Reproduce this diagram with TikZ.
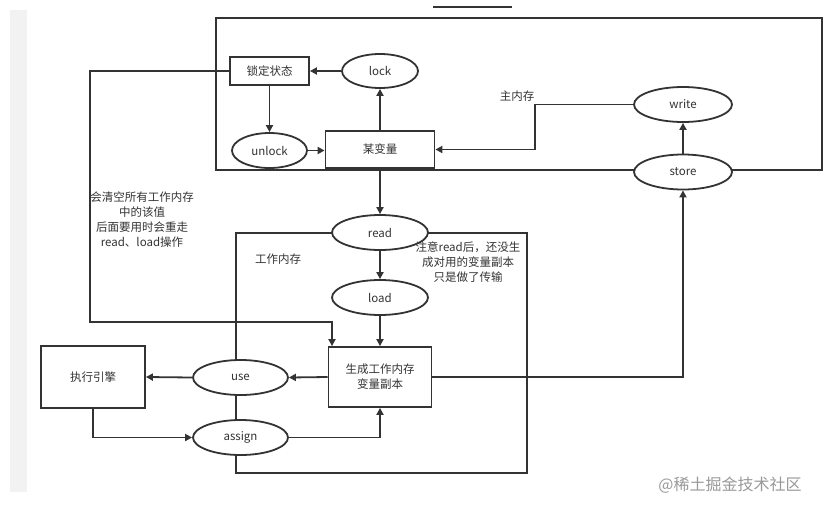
\documentclass[tikz,border=0pt]{standalone}
\usepackage{fontspec}
\setmainfont{Noto Sans CJK SC}
\usetikzlibrary{arrows.meta,shapes.geometric}
\definecolor{ln}{HTML}{333333}
\definecolor{strip}{HTML}{F2F2F2}
\begin{document}
\begin{tikzpicture}[x=1pt,y=-1pt,
  line/.style={draw=ln,line width=1.8pt},
  arr/.style={line,-{Triangle[length=7pt,width=7pt]}},
  txt/.style={font=\fontsize{11.5}{15}\selectfont,text=ln},
  box/.style={txt,draw=ln,line width=1.8pt,fill=white,inner sep=0pt,align=center},
  ell/.style={txt,ellipse,draw=ln,line width=1.8pt,fill=white,inner sep=0pt},
  frame/.style={draw=ln,line width=1.8pt,inner sep=0pt},
  lbl/.style={txt,align=center,inner sep=0pt}]
\path[fill=white,use as bounding box] (0,0) rectangle (825,507);
\fill[strip] (10,10) rectangle (27,492);
\draw[line] (433,7) -- (512,7);
% frames
\node[frame,minimum width=606pt,minimum height=152pt] (mainmem) at (519,94) {};
\node[frame,minimum width=291pt,minimum height=240pt] (workmem) at (381.5,353) {};
% nodes
\node[box,minimum width=79pt,minimum height=28pt] (lockst) at (269.5,71) {锁定状态};
\node[ell,minimum width=76pt,minimum height=34pt] (lock) at (380,71) {lock};
\node[ell,minimum width=75pt,minimum height=35pt] (unlock) at (269.5,150.5) {unlock};
\node[box,minimum width=109pt,minimum height=37pt] (var) at (380,149.5) {某变量};
\node[ell,minimum width=98pt,minimum height=35pt] (write) at (683,104.5) {write};
\node[ell,minimum width=98pt,minimum height=35pt] (store) at (683,172) {store};
\node[ell,minimum width=96pt,minimum height=35pt] (read) at (380,232.5) {read};
\node[ell,minimum width=96pt,minimum height=35pt] (load) at (380,297.5) {load};
\node[box,minimum width=103pt,minimum height=60pt] (gen) at (380,377) {生成工作内存\\变量副本};
\node[box,minimum width=104pt,minimum height=62pt] (engine) at (93,377) {执行引擎};
\node[ell,minimum width=95pt,minimum height=35pt] (use) at (240.5,377.5) {use};
\node[ell,minimum width=95pt,minimum height=35pt] (assign) at (240.5,437.5) {assign};
% connectors
\coordinate (c1) at (90,322);
\coordinate (c2) at (535,104.5);
\draw[arr] (lock.west) -- (lockst.east);
\draw[arr] (lockst.south) -- (unlock.north);
\draw[arr] (unlock.east) -- (unlock.east -| var.west);
\draw[arr] (var.north) -- (lock.south);
\draw[arr] (write.west) -- (c2) |- (var.east);
\draw[arr] (store.north) -- (write.south);
\draw[arr] (var.south) -- (read.north);
\draw[arr] (read.south) -- (load.north);
\draw[arr] (load.south) -- (gen.north);
\draw[arr] (lockst.west) -| (c1) -| ([xshift=-48pt]gen.north);
\draw[arr] (gen.west) -- (use.east);
\draw[arr] (use.west) -- (engine.east);
\draw[arr] (engine.south) |- (assign.west);
\draw[arr] (assign.east) -| (gen.south);
\draw[arr] (gen.east) -| (store.south);
% labels
\node[lbl] (note1) at (142,220) {会清空所有工作内存\\中的该值\\后面要用时会重走\\read、load操作};
\node[lbl] (wmlbl) at (278,259) {工作内存};
\node[lbl] (note2) at (468,262) {注意read后，还没生\\成对用的变量副本\\只是做了传输};
\node[lbl] (mmlbl) at (517,96) {主内存};
\node[font=\fontsize{16}{18}\selectfont,text=gray!80,inner sep=0pt] (wmk) at (730,485) {@稀土掘金技术社区};
\end{tikzpicture}
\end{document}
